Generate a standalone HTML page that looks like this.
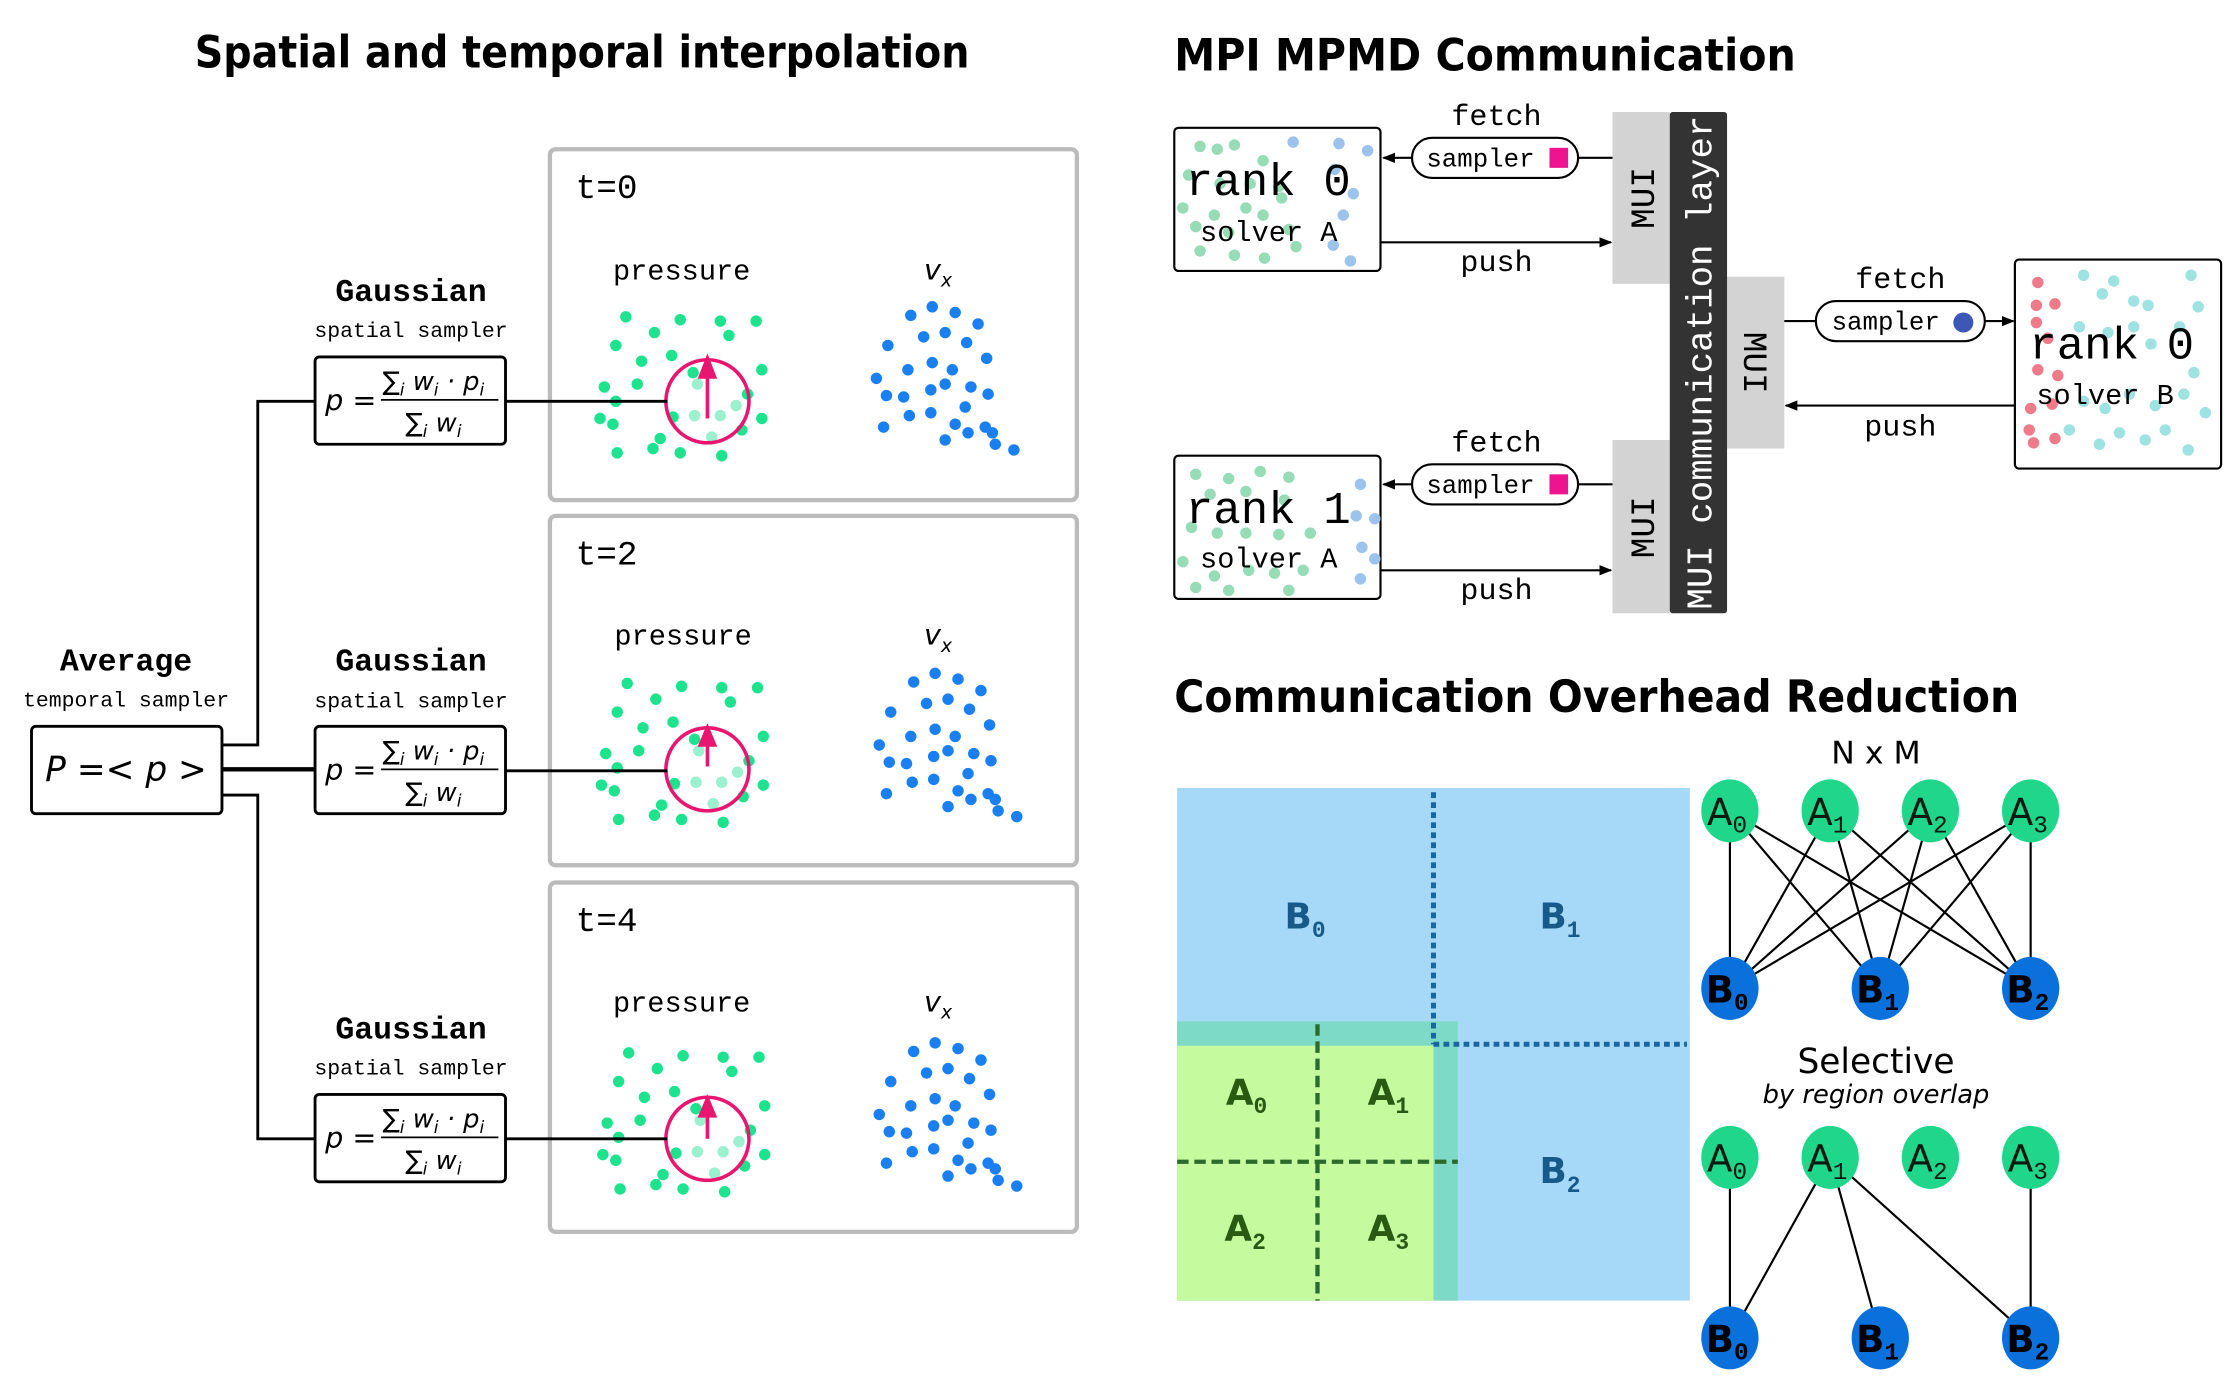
<!DOCTYPE html>
<html><head><meta charset="utf-8"><style>
html,body{margin:0;padding:0;background:#fff}
svg{display:block}
.mono{font-family:"Liberation Mono","DejaVu Sans Mono",monospace}
.sans{font-family:"Liberation Sans","DejaVu Sans",sans-serif}
.dv{font-family:"DejaVu Sans","Liberation Sans",sans-serif}
</style></head><body>
<svg width="2234" height="1384" viewBox="0 0 1560 966" xmlns="http://www.w3.org/2000/svg">
<defs>
<marker id="ar" viewBox="0 0 10 10" refX="9" refY="5" markerWidth="6" markerHeight="6" orient="auto"><path d="M0,1 L10,5 L0,9 z" fill="#000"/></marker>
<g id="pdots" fill="#1de38e">
<circle cx="437" cy="221" r="4"/><circle cx="475" cy="223" r="4"/><circle cx="503" cy="224" r="4"/><circle cx="528" cy="224" r="4"/>
<circle cx="457" cy="232" r="4"/><circle cx="430" cy="241" r="4"/><circle cx="509" cy="234" r="4"/>
<circle cx="448" cy="252" r="4"/><circle cx="469" cy="248" r="4"/><circle cx="484" cy="260" r="4"/><circle cx="532" cy="258" r="4"/>
<circle cx="422" cy="270" r="4"/><circle cx="445" cy="268" r="4"/><circle cx="522" cy="275" r="4"/>
<circle cx="419" cy="292" r="4"/><circle cx="430" cy="280" r="4"/><circle cx="532" cy="292" r="4"/>
<circle cx="428" cy="296" r="4"/><circle cx="461" cy="306" r="4"/><circle cx="470" cy="291" r="4"/>
<circle cx="431" cy="316" r="4"/><circle cx="456" cy="313" r="4"/><circle cx="475" cy="316" r="4"/><circle cx="504" cy="318" r="4"/><circle cx="518" cy="300" r="4"/>
<g fill="#9af0cf"><circle cx="487" cy="268" r="4"/><circle cx="503" cy="290" r="4"/><circle cx="485" cy="290" r="4"/><circle cx="514" cy="283" r="4"/><circle cx="497" cy="305" r="4"/></g>
</g>
<g id="vdots" fill="#1a7ff0">
<circle cx="636" cy="220" r="4"/><circle cx="651" cy="214" r="4"/><circle cx="667" cy="218" r="4"/><circle cx="683" cy="226" r="4"/>
<circle cx="620" cy="241" r="4"/><circle cx="645" cy="235" r="4"/><circle cx="660" cy="232" r="4"/><circle cx="675" cy="239" r="4"/><circle cx="689" cy="250" r="4"/>
<circle cx="612" cy="264" r="4"/><circle cx="634" cy="258" r="4"/><circle cx="651" cy="253" r="4"/><circle cx="665" cy="258" r="4"/><circle cx="678" cy="270" r="4"/><circle cx="690" cy="275" r="4"/>
<circle cx="619" cy="276" r="4"/><circle cx="631" cy="277" r="4"/><circle cx="650" cy="272" r="4"/><circle cx="660" cy="268" r="4"/><circle cx="674" cy="284" r="4"/><circle cx="688" cy="298" r="4"/>
<circle cx="617" cy="298" r="4"/><circle cx="635" cy="290" r="4"/><circle cx="650" cy="288" r="4"/><circle cx="667" cy="296" r="4"/><circle cx="660" cy="307" r="4"/><circle cx="676" cy="302" r="4"/>
<circle cx="693" cy="302" r="4"/><circle cx="708" cy="314" r="4"/><circle cx="695" cy="310" r="4"/>
</g>
<g id="formula">
<rect x="0" y="0" width="133" height="61" rx="3" fill="#fff" stroke="#000" stroke-width="2"/>
<text x="7" y="37" class="dv" font-style="italic" font-size="20">p =</text>
<text x="47" y="23" class="dv" font-style="italic" font-size="18">∑<tspan font-size="12" dy="4">i</tspan><tspan dy="-4"> w</tspan><tspan font-size="12" dy="4">i</tspan><tspan dy="-4"> · p</tspan><tspan font-size="12" dy="4">i</tspan></text>
<line x1="46" y1="30" x2="128" y2="30" stroke="#000" stroke-width="1.2"/>
<text x="63" y="52" class="dv" font-style="italic" font-size="18">∑<tspan font-size="12" dy="4">i</tspan><tspan dy="-4"> w</tspan><tspan font-size="12" dy="4">i</tspan></text>
</g>
</defs>

<!-- LEFT -->
<text x="136" y="47" textLength="541" lengthAdjust="spacingAndGlyphs" class="dv" font-weight="bold" font-size="31">Spatial and temporal interpolation</text>

<g fill="#fff" stroke="#bbb" stroke-width="3">
<rect x="384" y="104" width="368" height="245" rx="4"/>
<rect x="384" y="360" width="368" height="244" rx="4"/>
<rect x="384" y="616" width="368" height="244" rx="4"/>
</g>

<g class="mono" font-size="24"><text x="402" y="138">t=0</text><text x="402" y="394">t=2</text><text x="402" y="650">t=4</text></g>
<g class="mono" font-size="20" text-anchor="middle"><text x="476" y="195">pressure</text><text x="477" y="450">pressure</text><text x="476" y="706">pressure</text></g>
<g class="dv" font-style="italic" font-size="20" text-anchor="middle">
<text x="655" y="195">v<tspan font-size="13" dy="5">x</tspan></text>
<text x="655" y="450">v<tspan font-size="13" dy="5">x</tspan></text>
<text x="655" y="706">v<tspan font-size="13" dy="5">x</tspan></text></g>

<use href="#pdots"/><use href="#vdots"/>
<use href="#pdots" transform="translate(1,256)"/><use href="#vdots" transform="translate(2,256)"/>
<use href="#pdots" transform="translate(2,514)"/><use href="#vdots" transform="translate(2,514)"/>

<g fill="none" stroke="#e8166f" stroke-width="2.5">
<circle cx="494" cy="280" r="29"/><circle cx="494" cy="537" r="29"/><circle cx="494" cy="795" r="29"/>
</g>
<g stroke="#e8166f" stroke-width="2.5" fill="#e8166f">
<line x1="494" y1="292" x2="494" y2="258"/><path d="M489,263 L494,250 L499,263 z"/>
<line x1="494" y1="535" x2="494" y2="516"/><path d="M489,520 L494,508 L499,520 z"/>
<line x1="494" y1="795" x2="494" y2="775"/><path d="M489,779 L494,767 L499,779 z"/>
</g>

<g class="mono" text-anchor="middle">
<text x="287" y="210" font-size="22" font-weight="bold">Gaussian</text><text x="287" y="235" font-size="15">spatial sampler</text>
<text x="287" y="468" font-size="22" font-weight="bold">Gaussian</text><text x="287" y="494" font-size="15">spatial sampler</text>
<text x="287" y="725" font-size="22" font-weight="bold">Gaussian</text><text x="287" y="750" font-size="15">spatial sampler</text>
<text x="88" y="468" font-size="22" font-weight="bold">Average</text><text x="88" y="493" font-size="15">temporal sampler</text>
</g>

<g stroke="#000" stroke-width="2" fill="none">
<line x1="353" y1="280" x2="466" y2="280"/>
<line x1="353" y1="538" x2="466" y2="538"/>
<line x1="353" y1="795" x2="466" y2="795"/>
<polyline points="155,520 180,520 180,280 220,280"/>
<line x1="155" y1="537" x2="220" y2="537" stroke-width="3"/>
<polyline points="155,555 180,555 180,795 220,795"/>
</g>
<use href="#formula" transform="translate(220,249)"/>
<use href="#formula" transform="translate(220,507)"/>
<use href="#formula" transform="translate(220,764)"/>
<rect x="22" y="507" width="133" height="61" rx="3" fill="#fff" stroke="#000" stroke-width="2"/>
<text x="88" y="545" text-anchor="middle" class="dv" font-style="italic" font-size="24">P =&lt; p &gt;</text>

<!-- TOP RIGHT -->
<text x="820" y="49" textLength="434" lengthAdjust="spacingAndGlyphs" class="dv" font-weight="bold" font-size="31">MPI MPMD Communication</text>

<rect x="1126" y="78" width="40" height="120" fill="#d3d3d3"/>
<rect x="1126" y="307" width="40" height="121" fill="#d3d3d3"/>
<rect x="1206" y="193" width="40" height="120" fill="#d3d3d3"/>
<rect x="1166" y="78" width="40" height="350" rx="2" fill="#333"/>
<text transform="translate(1195,253) rotate(-90)" text-anchor="middle" class="mono" font-size="25" fill="#fff">MUI communication layer</text>
<text transform="translate(1155,138) rotate(-90)" text-anchor="middle" class="mono" font-size="24">MUI</text>
<text transform="translate(1155,368) rotate(-90)" text-anchor="middle" class="mono" font-size="24">MUI</text>
<text transform="translate(1218,253) rotate(90)" text-anchor="middle" class="mono" font-size="24">MUI</text>

<!-- rank0 A -->
<rect x="820" y="89" width="144" height="100" rx="3" fill="#fff" stroke="#000" stroke-width="1.5"/>
<g fill="#96dcb6">
<circle cx="838" cy="102" r="4"/><circle cx="850" cy="104" r="4"/><circle cx="862" cy="101" r="4"/><circle cx="882" cy="112" r="4"/><circle cx="830" cy="122" r="4"/><circle cx="852" cy="128" r="4"/><circle cx="873" cy="128" r="4"/><circle cx="893" cy="130" r="4"/><circle cx="826" cy="145" r="4"/><circle cx="848" cy="150" r="4"/><circle cx="870" cy="145" r="4"/><circle cx="882" cy="150" r="4"/><circle cx="895" cy="138" r="4"/><circle cx="835" cy="158" r="4"/><circle cx="858" cy="162" r="4"/><circle cx="900" cy="160" r="4"/><circle cx="838" cy="175" r="4"/><circle cx="862" cy="178" r="4"/><circle cx="883" cy="180" r="4"/><circle cx="905" cy="172" r="4"/>
</g>
<g fill="#9cc3ec"><circle cx="903" cy="99" r="4"/><circle cx="935" cy="100" r="4"/><circle cx="955" cy="105" r="4"/><circle cx="932" cy="118" r="4"/><circle cx="945" cy="135" r="4"/><circle cx="938" cy="150" r="4"/><circle cx="931" cy="171" r="4"/><circle cx="943" cy="182" r="4"/></g>
<text x="828" y="136" class="mono" font-size="32">rank 0</text>
<text x="838" y="168" class="mono" font-size="20">solver A</text>

<!-- rank1 A -->
<rect x="820" y="318" width="144" height="100" rx="3" fill="#fff" stroke="#000" stroke-width="1.5"/>
<g fill="#96dcb6">
<circle cx="835" cy="331" r="4"/><circle cx="858" cy="334" r="4"/><circle cx="880" cy="329" r="4"/><circle cx="900" cy="333" r="4"/><circle cx="845" cy="345" r="4"/><circle cx="870" cy="343" r="4"/><circle cx="897" cy="349" r="4"/><circle cx="832" cy="368" r="4"/><circle cx="850" cy="372" r="4"/><circle cx="870" cy="372" r="4"/><circle cx="893" cy="373" r="4"/><circle cx="915" cy="372" r="4"/><circle cx="826" cy="392" r="4"/><circle cx="848" cy="402" r="4"/><circle cx="872" cy="398" r="4"/><circle cx="890" cy="400" r="4"/><circle cx="910" cy="398" r="4"/><circle cx="835" cy="410" r="4"/><circle cx="858" cy="412" r="4"/><circle cx="900" cy="412" r="4"/>
</g>
<g fill="#9cc3ec"><circle cx="950" cy="338" r="4"/><circle cx="947" cy="360" r="4"/><circle cx="960" cy="362" r="4"/><circle cx="951" cy="382" r="4"/><circle cx="960" cy="390" r="4"/><circle cx="950" cy="404" r="4"/></g>
<text x="828" y="365" class="mono" font-size="32">rank 1</text>
<text x="838" y="396" class="mono" font-size="20">solver A</text>

<!-- rank0 B -->
<rect x="1407" y="181" width="144" height="146" rx="3" fill="#fff" stroke="#000" stroke-width="1.5"/>
<g fill="#ee7a8a"><circle cx="1423" cy="197" r="4"/><circle cx="1435" cy="212" r="4"/><circle cx="1422" cy="213" r="4"/><circle cx="1422" cy="225" r="4"/><circle cx="1430" cy="236" r="4"/><circle cx="1423" cy="258" r="4"/><circle cx="1437" cy="262" r="4"/><circle cx="1418" cy="285" r="4"/><circle cx="1433" cy="282" r="4"/><circle cx="1417" cy="300" r="4"/><circle cx="1420" cy="309" r="4"/><circle cx="1435" cy="306" r="4"/></g>
<g fill="#9fe2e2"><circle cx="1455" cy="192" r="4"/><circle cx="1476" cy="196" r="4"/><circle cx="1490" cy="210" r="4"/><circle cx="1530" cy="192" r="4"/><circle cx="1468" cy="205" r="4"/><circle cx="1500" cy="213" r="4"/><circle cx="1535" cy="214" r="4"/><circle cx="1452" cy="228" r="4"/><circle cx="1472" cy="232" r="4"/><circle cx="1502" cy="240" r="4"/><circle cx="1522" cy="228" r="4"/><circle cx="1490" cy="228" r="4"/><circle cx="1532" cy="260" r="4"/><circle cx="1455" cy="280" r="4"/><circle cx="1470" cy="285" r="4"/><circle cx="1487" cy="275" r="4"/><circle cx="1505" cy="283" r="4"/><circle cx="1525" cy="275" r="4"/><circle cx="1445" cy="300" r="4"/><circle cx="1466" cy="310" r="4"/><circle cx="1480" cy="302" r="4"/><circle cx="1498" cy="307" r="4"/><circle cx="1512" cy="300" r="4"/><circle cx="1540" cy="288" r="4"/><circle cx="1528" cy="314" r="4"/></g>
<text x="1417" y="250" class="mono" font-size="32">rank 0</text>
<text x="1422" y="282" class="mono" font-size="20">solver B</text>

<!-- connectors -->
<g stroke="#000" stroke-width="1.5" fill="none">
<line x1="1126" y1="110" x2="1102" y2="110"/><line x1="986" y1="110" x2="966" y2="110" marker-end="url(#ar)"/>
<line x1="964" y1="169" x2="1125" y2="169" marker-end="url(#ar)"/>
<line x1="1126" y1="338" x2="1102" y2="338"/><line x1="986" y1="338" x2="966" y2="338" marker-end="url(#ar)"/>
<line x1="964" y1="398" x2="1125" y2="398" marker-end="url(#ar)"/>
<line x1="1246" y1="224" x2="1268" y2="224"/><line x1="1386" y1="224" x2="1406" y2="224" marker-end="url(#ar)"/>
<line x1="1407" y1="283" x2="1247" y2="283" marker-end="url(#ar)"/>
</g>
<g fill="#fff" stroke="#000" stroke-width="1.5">
<rect x="986" y="96" width="116" height="28" rx="14"/><rect x="986" y="324" width="116" height="28" rx="14"/><rect x="1268" y="210" width="118" height="28" rx="14"/>
</g>
<rect x="1082" y="103" width="13" height="14" fill="#ee1390"/><rect x="1082" y="331" width="13" height="14" fill="#ee1390"/>
<circle cx="1371" cy="225" r="7" fill="#3b57b8"/>
<g class="mono" font-size="18"><text x="996" y="116">sampler</text><text x="996" y="344">sampler</text><text x="1279" y="230">sampler</text></g>
<g class="mono" font-size="21" text-anchor="middle">
<text x="1045" y="87">fetch</text><text x="1045" y="189">push</text>
<text x="1045" y="315">fetch</text><text x="1045" y="418">push</text>
<text x="1327" y="201">fetch</text><text x="1327" y="304">push</text>
</g>

<!-- BOTTOM RIGHT -->
<text x="820" y="497" textLength="590" lengthAdjust="spacingAndGlyphs" class="dv" font-weight="bold" font-size="31">Communication Overhead Reduction</text>
<rect x="822" y="550" width="358" height="358" fill="#a6d8f7"/>
<rect x="822" y="713" width="196" height="195" fill="#7ddac6"/>
<rect x="822" y="730" width="179" height="178" fill="#c6fa9e"/>
<g stroke="#1a66a0" stroke-width="3.5" stroke-dasharray="4,3" fill="none">
<line x1="1001" y1="553" x2="1001" y2="729"/><line x1="1001" y1="729" x2="1178" y2="729"/>
</g>
<g stroke="#2d6a2d" stroke-width="3" stroke-dasharray="8,4" fill="none">
<line x1="920" y1="715" x2="920" y2="908"/><line x1="822" y1="811" x2="1018" y2="811"/>
</g>
<g class="dv" font-weight="bold" font-size="25" fill="#175a8a">
<text x="897" y="648">B<tspan font-size="16" dy="6" class="mono">0</tspan></text>
<text x="1075" y="648">B<tspan font-size="16" dy="6" class="mono">1</tspan></text>
<text x="1075" y="826">B<tspan font-size="16" dy="6" class="mono">2</tspan></text>
</g>
<g class="dv" font-weight="bold" font-size="25" fill="#2a5a12">
<text x="856" y="771">A<tspan font-size="16" dy="6" class="mono">0</tspan></text>
<text x="955" y="771">A<tspan font-size="16" dy="6" class="mono">1</tspan></text>
<text x="855" y="866">A<tspan font-size="16" dy="6" class="mono">2</tspan></text>
<text x="955" y="866">A<tspan font-size="16" dy="6" class="mono">3</tspan></text>
</g>

<text x="1310" y="533" text-anchor="middle" class="dv" font-size="22">N x M</text>
<g stroke="#000" stroke-width="1.5">
<line x1="1208" y1="566" x2="1208" y2="690"/><line x1="1208" y1="566" x2="1313" y2="690"/><line x1="1208" y1="566" x2="1418" y2="690"/>
<line x1="1278" y1="566" x2="1208" y2="690"/><line x1="1278" y1="566" x2="1313" y2="690"/><line x1="1278" y1="566" x2="1418" y2="690"/>
<line x1="1348" y1="566" x2="1208" y2="690"/><line x1="1348" y1="566" x2="1313" y2="690"/><line x1="1348" y1="566" x2="1418" y2="690"/>
<line x1="1418" y1="566" x2="1208" y2="690"/><line x1="1418" y1="566" x2="1313" y2="690"/><line x1="1418" y1="566" x2="1418" y2="690"/>
<line x1="1208" y1="808" x2="1208" y2="934"/><line x1="1278" y1="808" x2="1208" y2="934"/><line x1="1278" y1="808" x2="1313" y2="934"/><line x1="1278" y1="808" x2="1418" y2="934"/><line x1="1418" y1="808" x2="1418" y2="934"/>
</g>
<g fill="#1fd68a">
<ellipse cx="1208" cy="566" rx="20" ry="22"/><ellipse cx="1278" cy="566" rx="20" ry="22"/><ellipse cx="1348" cy="566" rx="20" ry="22"/><ellipse cx="1418" cy="566" rx="20" ry="22"/>
<ellipse cx="1208" cy="808" rx="20" ry="22"/><ellipse cx="1278" cy="808" rx="20" ry="22"/><ellipse cx="1348" cy="808" rx="20" ry="22"/><ellipse cx="1418" cy="808" rx="20" ry="22"/>
</g>
<g fill="#0a70dc">
<ellipse cx="1208" cy="690" rx="20" ry="22"/><ellipse cx="1313" cy="690" rx="20" ry="22"/><ellipse cx="1418" cy="690" rx="20" ry="22"/>
<ellipse cx="1208" cy="934" rx="20" ry="22"/><ellipse cx="1313" cy="934" rx="20" ry="22"/><ellipse cx="1418" cy="934" rx="20" ry="22"/>
</g>
<g class="dv" font-size="26" fill="#0a1a10">
<text x="1192" y="576">A<tspan class="mono" font-size="17" dy="5">0</tspan></text>
<text x="1262" y="576">A<tspan class="mono" font-size="17" dy="5">1</tspan></text>
<text x="1332" y="576">A<tspan class="mono" font-size="17" dy="5">2</tspan></text>
<text x="1402" y="576">A<tspan class="mono" font-size="17" dy="5">3</tspan></text>
<text x="1192" y="818">A<tspan class="mono" font-size="17" dy="5">0</tspan></text>
<text x="1262" y="818">A<tspan class="mono" font-size="17" dy="5">1</tspan></text>
<text x="1332" y="818">A<tspan class="mono" font-size="17" dy="5">2</tspan></text>
<text x="1402" y="818">A<tspan class="mono" font-size="17" dy="5">3</tspan></text>
</g>
<g class="dv" font-size="26" font-weight="bold" fill="#000">
<text x="1191" y="700">B<tspan class="mono" font-size="17" dy="5">0</tspan></text>
<text x="1296" y="700">B<tspan class="mono" font-size="17" dy="5">1</tspan></text>
<text x="1401" y="700">B<tspan class="mono" font-size="17" dy="5">2</tspan></text>
<text x="1191" y="944">B<tspan class="mono" font-size="17" dy="5">0</tspan></text>
<text x="1296" y="944">B<tspan class="mono" font-size="17" dy="5">1</tspan></text>
<text x="1401" y="944">B<tspan class="mono" font-size="17" dy="5">2</tspan></text>
</g>
<text x="1310" y="749" text-anchor="middle" class="dv" font-size="24">Selective</text>
<text x="1310" y="770" text-anchor="middle" class="dv" font-style="italic" font-size="18">by region overlap</text>
</svg>
</body></html>
